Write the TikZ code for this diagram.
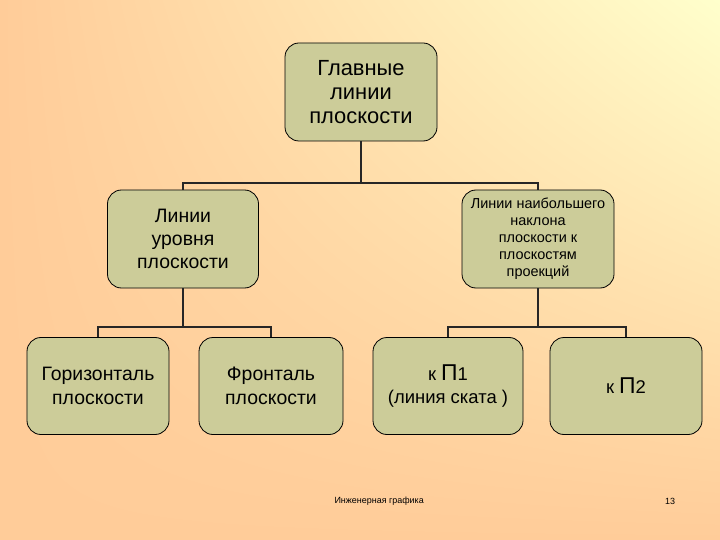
\documentclass[tikz,border=0pt]{standalone}
\usepackage{fontspec}
\setmainfont{Liberation Sans}
\usetikzlibrary{positioning,shadings}
\definecolor{boxfill}{HTML}{CCCC99}
\definecolor{peach}{HTML}{FFCC99}
\definecolor{lemon}{HTML}{FFFFCC}
\newcommand{\bigP}{{\fontsize{23}{24}\selectfont П}}

\begin{document}
\begin{tikzpicture}[x=1bp, y=-1bp,
  box/.style={draw=black, fill=boxfill, rounded corners=14bp, align=center, minimum width=152bp, minimum height=98bp, inner sep=2bp, line width=0.8bp},
  link/.style={line width=1.8bp, draw=black!85},
  foot/.style={font=\fontsize{9}{10}\selectfont}]
\useasboundingbox (0,0) rectangle (720,540);
\shade[upper left=peach, upper right=lemon, lower left=peach, lower right=peach] (0,0) rectangle (720,540);
% levels of the tree
\node[box, font=\fontsize{22}{24}\selectfont] (main) at (361,92) {Главные\\линии\\плоскости};
\node[box, minimum width=151bp, font=\fontsize{19.5}{23}\selectfont] (level) at (183,239) {Линии\\уровня\\плоскости};
\node[box, font=\fontsize{14.5}{17}\selectfont] (slope) at (538,239) {Линии наибольшего\\наклона\\плоскости к\\плоскостям\\проекций};
\node[box, minimum width=142bp, minimum height=97bp, font=\fontsize{19.5}{24}\selectfont] (horiz) at (98,386) {Горизонталь\\плоскости};
\node[box, minimum width=144bp, minimum height=97bp, font=\fontsize{19.5}{24}\selectfont] (front) at (271,386) {Фронталь\\плоскости};
\node[box, minimum width=150bp, minimum height=97bp, font=\fontsize{18.5}{23}\selectfont] (kpone) at (448,386) {к \bigP1\\(линия ската )};
\node[box, minimum width=152bp, minimum height=97bp, font=\fontsize{18.5}{24}\selectfont] (kptwo) at (626,386) {к \bigP2};
% connectors
\coordinate (busa) at (0,183);
\coordinate (busb) at (0,327);
\draw[link] (main.south) -- (main.south |- busa);
\draw[link] (level.north) -- (level.north |- busa) -- (slope.north |- busa) -- (slope.north);
\draw[link] (level.south) -- (level.south |- busb);
\draw[link] (horiz.north) -- (horiz.north |- busb) -- (front.north |- busb) -- (front.north);
\draw[link] (slope.south) -- (slope.south |- busb);
\draw[link] (kpone.north) -- (kpone.north |- busb) -- (kptwo.north |- busb) -- (kptwo.north);
% footer
\node[foot, anchor=west] (title) at (331,501) {Инженерная графика};
\node[foot] (page) at (670,501) {13};
\end{tikzpicture}
\end{document}
